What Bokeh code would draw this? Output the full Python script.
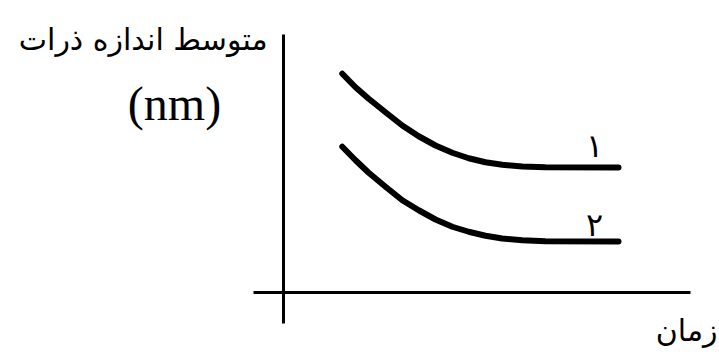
from bokeh.plotting import figure
from bokeh.models import Label, Range1d, LinearAxis
from bokeh.embed import file_html
from bokeh.resources import INLINE

# Data (arbitrary units)
time = [1.47, 1.8, 2.13, 2.55, 2.97, 3.38, 3.8, 4.22, 4.63, 5.05, 5.47, 5.97, 6.55, 8.375]
size_1 = [8.75, 8.21, 7.75, 7.21, 6.68, 6.25, 5.88, 5.59, 5.37, 5.21, 5.11, 5.04, 5.01, 5.0]
size_2 = [5.83, 5.29, 4.79, 4.23, 3.69, 3.29, 2.92, 2.63, 2.43, 2.27, 2.16, 2.09, 2.05, 2.04]
series_labels = ["۱", "۲"]
y_title = "متوسط اندازه ذرات"
y_unit = "(nm)"
x_title = "زمان"

p = figure(width=719, height=355, output_backend="svg", toolbar_location=None,
           x_range=Range1d(-7.075, 10.9), y_range=Range1d(-2.52, 11.68),
           x_axis_location=None, y_axis_location=None,
           min_border=0)
p.background_fill_color = "white"
p.border_fill_color = "white"
p.outline_line_color = None
p.grid.visible = False

def make_axis(bounds):
    ax = LinearAxis(fixed_location=0, bounds=bounds)
    ax.axis_line_width = 3
    ax.axis_line_color = "black"
    ax.major_tick_line_color = None
    ax.minor_tick_line_color = None
    ax.major_tick_in = 0
    ax.major_tick_out = 0
    ax.minor_tick_in = 0
    ax.minor_tick_out = 0
    ax.major_label_standoff = 0
    ax.major_label_text_font_size = "0px"
    ax.major_label_text_color = None
    return ax

p.add_layout(make_axis((-0.75, 10.175)), "below")
p.add_layout(make_axis((-1.24, 10.32)), "left")

for ys in (size_1, size_2):
    p.line(time, ys, line_width=6, line_color="black",
           line_cap="round", line_join="round")

# curve labels
p.add_layout(Label(x=time[-1] - 0.6, y=size_1[-1] + 0.86, text=series_labels[0],
                   text_font="DejaVu Sans", text_font_size="32px",
                   text_align="center", text_baseline="middle", text_color="black"))
p.add_layout(Label(x=time[-1] - 0.6, y=size_2[-1] + 0.68, text=series_labels[1],
                   text_font="DejaVu Sans", text_font_size="32px",
                   text_align="center", text_baseline="middle", text_color="black"))

# axis titles
p.add_layout(Label(x=-0.4, y=10.12, text=y_title,
                   text_font="DejaVu Sans", text_font_size="30px",
                   text_align="right", text_baseline="middle", text_color="black"))
p.add_layout(Label(x=-2.725, y=7.56, text=y_unit,
                   text_font="Liberation Serif", text_font_size="48px",
                   text_align="center", text_baseline="middle", text_color="black"))
p.add_layout(Label(x=10.85, y=-1.52, text=x_title,
                   text_font="DejaVu Sans", text_font_size="30px",
                   text_align="right", text_baseline="middle", text_color="black"))

open("out.html", "w").write(file_html(p, INLINE))
